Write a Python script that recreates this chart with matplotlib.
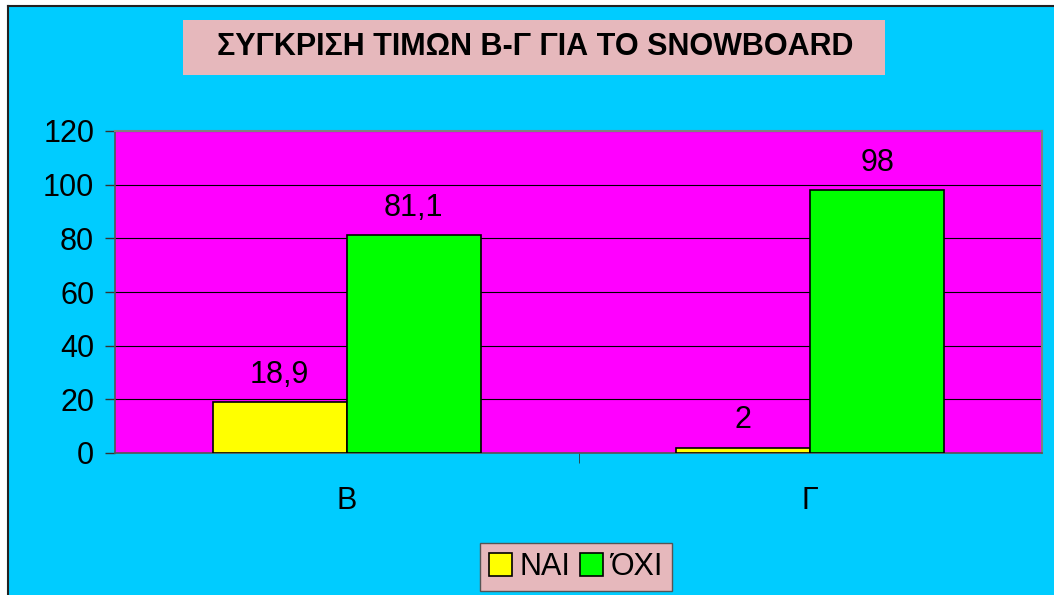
import numpy as np
import matplotlib.pyplot as plt
from matplotlib.patches import Rectangle
from matplotlib.lines import Line2D

plt.rcParams['font.family'] = ['Liberation Sans', 'DejaVu Sans']

categories = ['Β', 'Γ']
nai = [18.9, 2]
oxi = [81.1, 98]
labels_nai = ['18,9', '2']
labels_oxi = ['81,1', '98']

W, H = 1054, 595
fig = plt.figure(figsize=(W/100, H/100), dpi=100)
fig.patch.set_facecolor('white')

# cyan chart area with dark left/top border
fig.patches.append(Rectangle((8/W, 0), 1, 1-6/H, transform=fig.transFigure,
                             facecolor='#00CCFF', edgecolor='none', zorder=-2))
fig.lines.append(Line2D([7.5/W, 7.5/W], [0, 1-5.5/H], transform=fig.transFigure,
                        color='#222222', linewidth=1.5))
fig.lines.append(Line2D([7.5/W, 1], [1-5.5/H, 1-5.5/H], transform=fig.transFigure,
                        color='#222222', linewidth=1.5))

ax = fig.add_axes([115/W, 1-453/H, 927/W, 322/H])
ax.set_facecolor('#FF00FF')

x = np.arange(len(categories))
w = 0.289
b1 = ax.bar(x - w/2, nai, w, color='#FFFF00', edgecolor='black', linewidth=1.2, zorder=3, label='ΝΑΙ')
b2 = ax.bar(x + w/2, oxi, w, color='#00FF00', edgecolor='black', linewidth=1.2, zorder=3, label='ΌΧΙ')

for bars, labs in ((b1, labels_nai), (b2, labels_oxi)):
    for r, t in zip(bars, labs):
        ax.annotate(t, (r.get_x() + r.get_width()/2, r.get_height()),
                    xytext=(0, 14), textcoords='offset points',
                    ha='center', va='baseline', fontsize=22, zorder=4)

ax.set_xlim(-0.5, 1.5)
ax.set_ylim(0, 120)
ax.set_yticks(range(0, 121, 20))
ax.yaxis.grid(True, color='black', linewidth=0.8, zorder=0)
ax.set_xticks([0.5], minor=True)
ax.set_xticks(x)
ax.set_xticklabels(categories, fontsize=22)
ax.tick_params(axis='y', labelsize=22, direction='out', length=7, width=1, color='#333333', pad=8)
ax.tick_params(axis='x', which='major', length=0, pad=24)
ax.tick_params(axis='x', which='minor', length=7, color='#333333')
for s in ('top', 'right'):
    ax.spines[s].set_color('#808080')
    ax.spines[s].set_linewidth(1.5)
for s in ('left', 'bottom'):
    ax.spines[s].set_color('#555555')
    ax.spines[s].set_linewidth(1.2)

# title box
fig.patches.append(Rectangle((183/W, 1-75/H), 702/W, 55/H,
                             transform=fig.transFigure, facecolor='#E6B8BC',
                             edgecolor='none', zorder=0))
fig.text(535/W, 1-47/H, 'ΣΥΓΚΡΙΣΗ ΤΙΜΩΝ Β-Γ ΓΙΑ ΤΟ SNOWBOARD',
         ha='center', va='center', fontsize=22, fontweight='bold')

leg = fig.legend(loc='center', bbox_to_anchor=(576/W, 1-567/H), ncol=2,
                 fontsize=22, frameon=True, fancybox=False, handlelength=0.75,
                 handleheight=0.75, handletextpad=0.25, columnspacing=0.3,
                 borderpad=0.3, borderaxespad=0)
leg.get_frame().set_facecolor('#E6B8BC')
leg.get_frame().set_edgecolor('#555555')
leg.get_frame().set_alpha(1)

fig.savefig('out.png', dpi=100, facecolor=fig.get_facecolor())
